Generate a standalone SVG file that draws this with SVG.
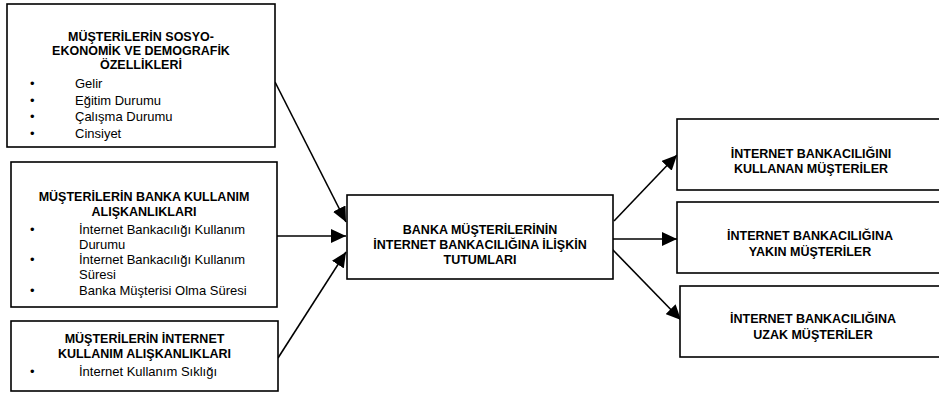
<svg xmlns="http://www.w3.org/2000/svg" width="939" height="394" viewBox="0 0 939 394">
<defs>
<style>
.box{fill:#fff;stroke:#000;stroke-width:1.6}
.h{font-family:"Liberation Sans",Arial,sans-serif;font-weight:bold;font-size:12.5px;fill:#000;text-anchor:middle}
.t{font-family:"Liberation Sans",Arial,sans-serif;font-size:13px;fill:#000}
.c{fill:none;stroke:#000;stroke-width:1.6}
</style>
<marker id="ah" markerUnits="userSpaceOnUse" markerWidth="16" markerHeight="14" refX="15" refY="7" orient="auto">
<path d="M0,0 L15,7 L0,14 z" fill="#000"/>
</marker>
</defs>
<rect width="939" height="394" fill="#fff"/>
<g id="connectors">
<line class="c" x1="275" y1="82" x2="346" y2="222" marker-end="url(#ah)"/>
<line class="c" x1="277" y1="236" x2="346" y2="236" marker-end="url(#ah)"/>
<line class="c" x1="278" y1="358" x2="346" y2="252" marker-end="url(#ah)"/>
<line class="c" x1="614" y1="221" x2="677" y2="155" marker-end="url(#ah)"/>
<line class="c" x1="610" y1="239" x2="677" y2="239" marker-end="url(#ah)"/>
<line class="c" x1="612" y1="249" x2="681" y2="320" marker-end="url(#ah)"/>
</g>
<g id="node-sosyo">
<rect class="box" x="7" y="4" width="268" height="143"/>
<text class="h" x="141" y="40.5">MÜŞTERİLERİN SOSYO-</text>
<text class="h" x="141" y="54.5">EKONOMİK VE DEMOGRAFİK</text>
<text class="h" x="141" y="68.5">ÖZELLİKLERİ</text>
<text class="t" x="30" y="88">•</text><text class="t" x="75" y="88">Gelir</text>
<text class="t" x="30" y="104.5">•</text><text class="t" x="75" y="104.5">Eğitim Durumu</text>
<text class="t" x="30" y="121">•</text><text class="t" x="75" y="121">Çalışma Durumu</text>
<text class="t" x="30" y="137.5">•</text><text class="t" x="75" y="137.5">Cinsiyet</text>
</g>
<g id="node-banka">
<rect class="box" x="11" y="162" width="266" height="145"/>
<text class="h" x="144" y="200.5">MÜŞTERİLERİN BANKA KULLANIM</text>
<text class="h" x="144" y="216">ALIŞKANLIKLARI</text>
<text class="t" x="30" y="233.5">•</text><text class="t" x="79" y="233.5">İnternet Bankacılığı Kullanım</text>
<text class="t" x="79" y="248.5">Durumu</text>
<text class="t" x="30" y="264">•</text><text class="t" x="79" y="264">İnternet Bankacılığı Kullanım</text>
<text class="t" x="79" y="278.5">Süresi</text>
<text class="t" x="30" y="294.5">•</text><text class="t" x="79" y="294.5">Banka Müşterisi Olma Süresi</text>
</g>
<g id="node-internet">
<rect class="box" x="11" y="321" width="267" height="70"/>
<text class="h" x="144.5" y="343">MÜŞTERİLERİN İNTERNET</text>
<text class="h" x="144.5" y="358">KULLANIM ALIŞKANLIKLARI</text>
<text class="t" x="30" y="376">•</text><text class="t" x="79" y="376">İnternet Kullanım Sıklığı</text>
</g>
<g id="node-tutum">
<rect class="box" x="347" y="195" width="266" height="84"/>
<text class="h" x="480" y="233.5">BANKA MÜŞTERİLERİNİN</text>
<text class="h" x="480" y="248.5">İNTERNET BANKACILIĞINA İLİŞKİN</text>
<text class="h" x="480" y="263.5">TUTUMLARI</text>
</g>
<g id="node-kullanan">
<rect class="box" x="677" y="119" width="270" height="71"/>
<text class="h" x="811" y="157.5">İNTERNET BANKACILIĞINI</text>
<text class="h" x="811" y="172.5">KULLANAN MÜŞTERİLER</text>
</g>
<g id="node-yakin">
<rect class="box" x="677" y="202" width="270" height="71"/>
<text class="h" x="810" y="239.5">İNTERNET BANKACILIĞINA</text>
<text class="h" x="810" y="255.5">YAKIN MÜŞTERİLER</text>
</g>
<g id="node-uzak">
<rect class="box" x="680" y="286" width="270" height="71"/>
<text class="h" x="813" y="322.5">İNTERNET BANKACILIĞINA</text>
<text class="h" x="813" y="338.5">UZAK MÜŞTERİLER</text>
</g>
</svg>
